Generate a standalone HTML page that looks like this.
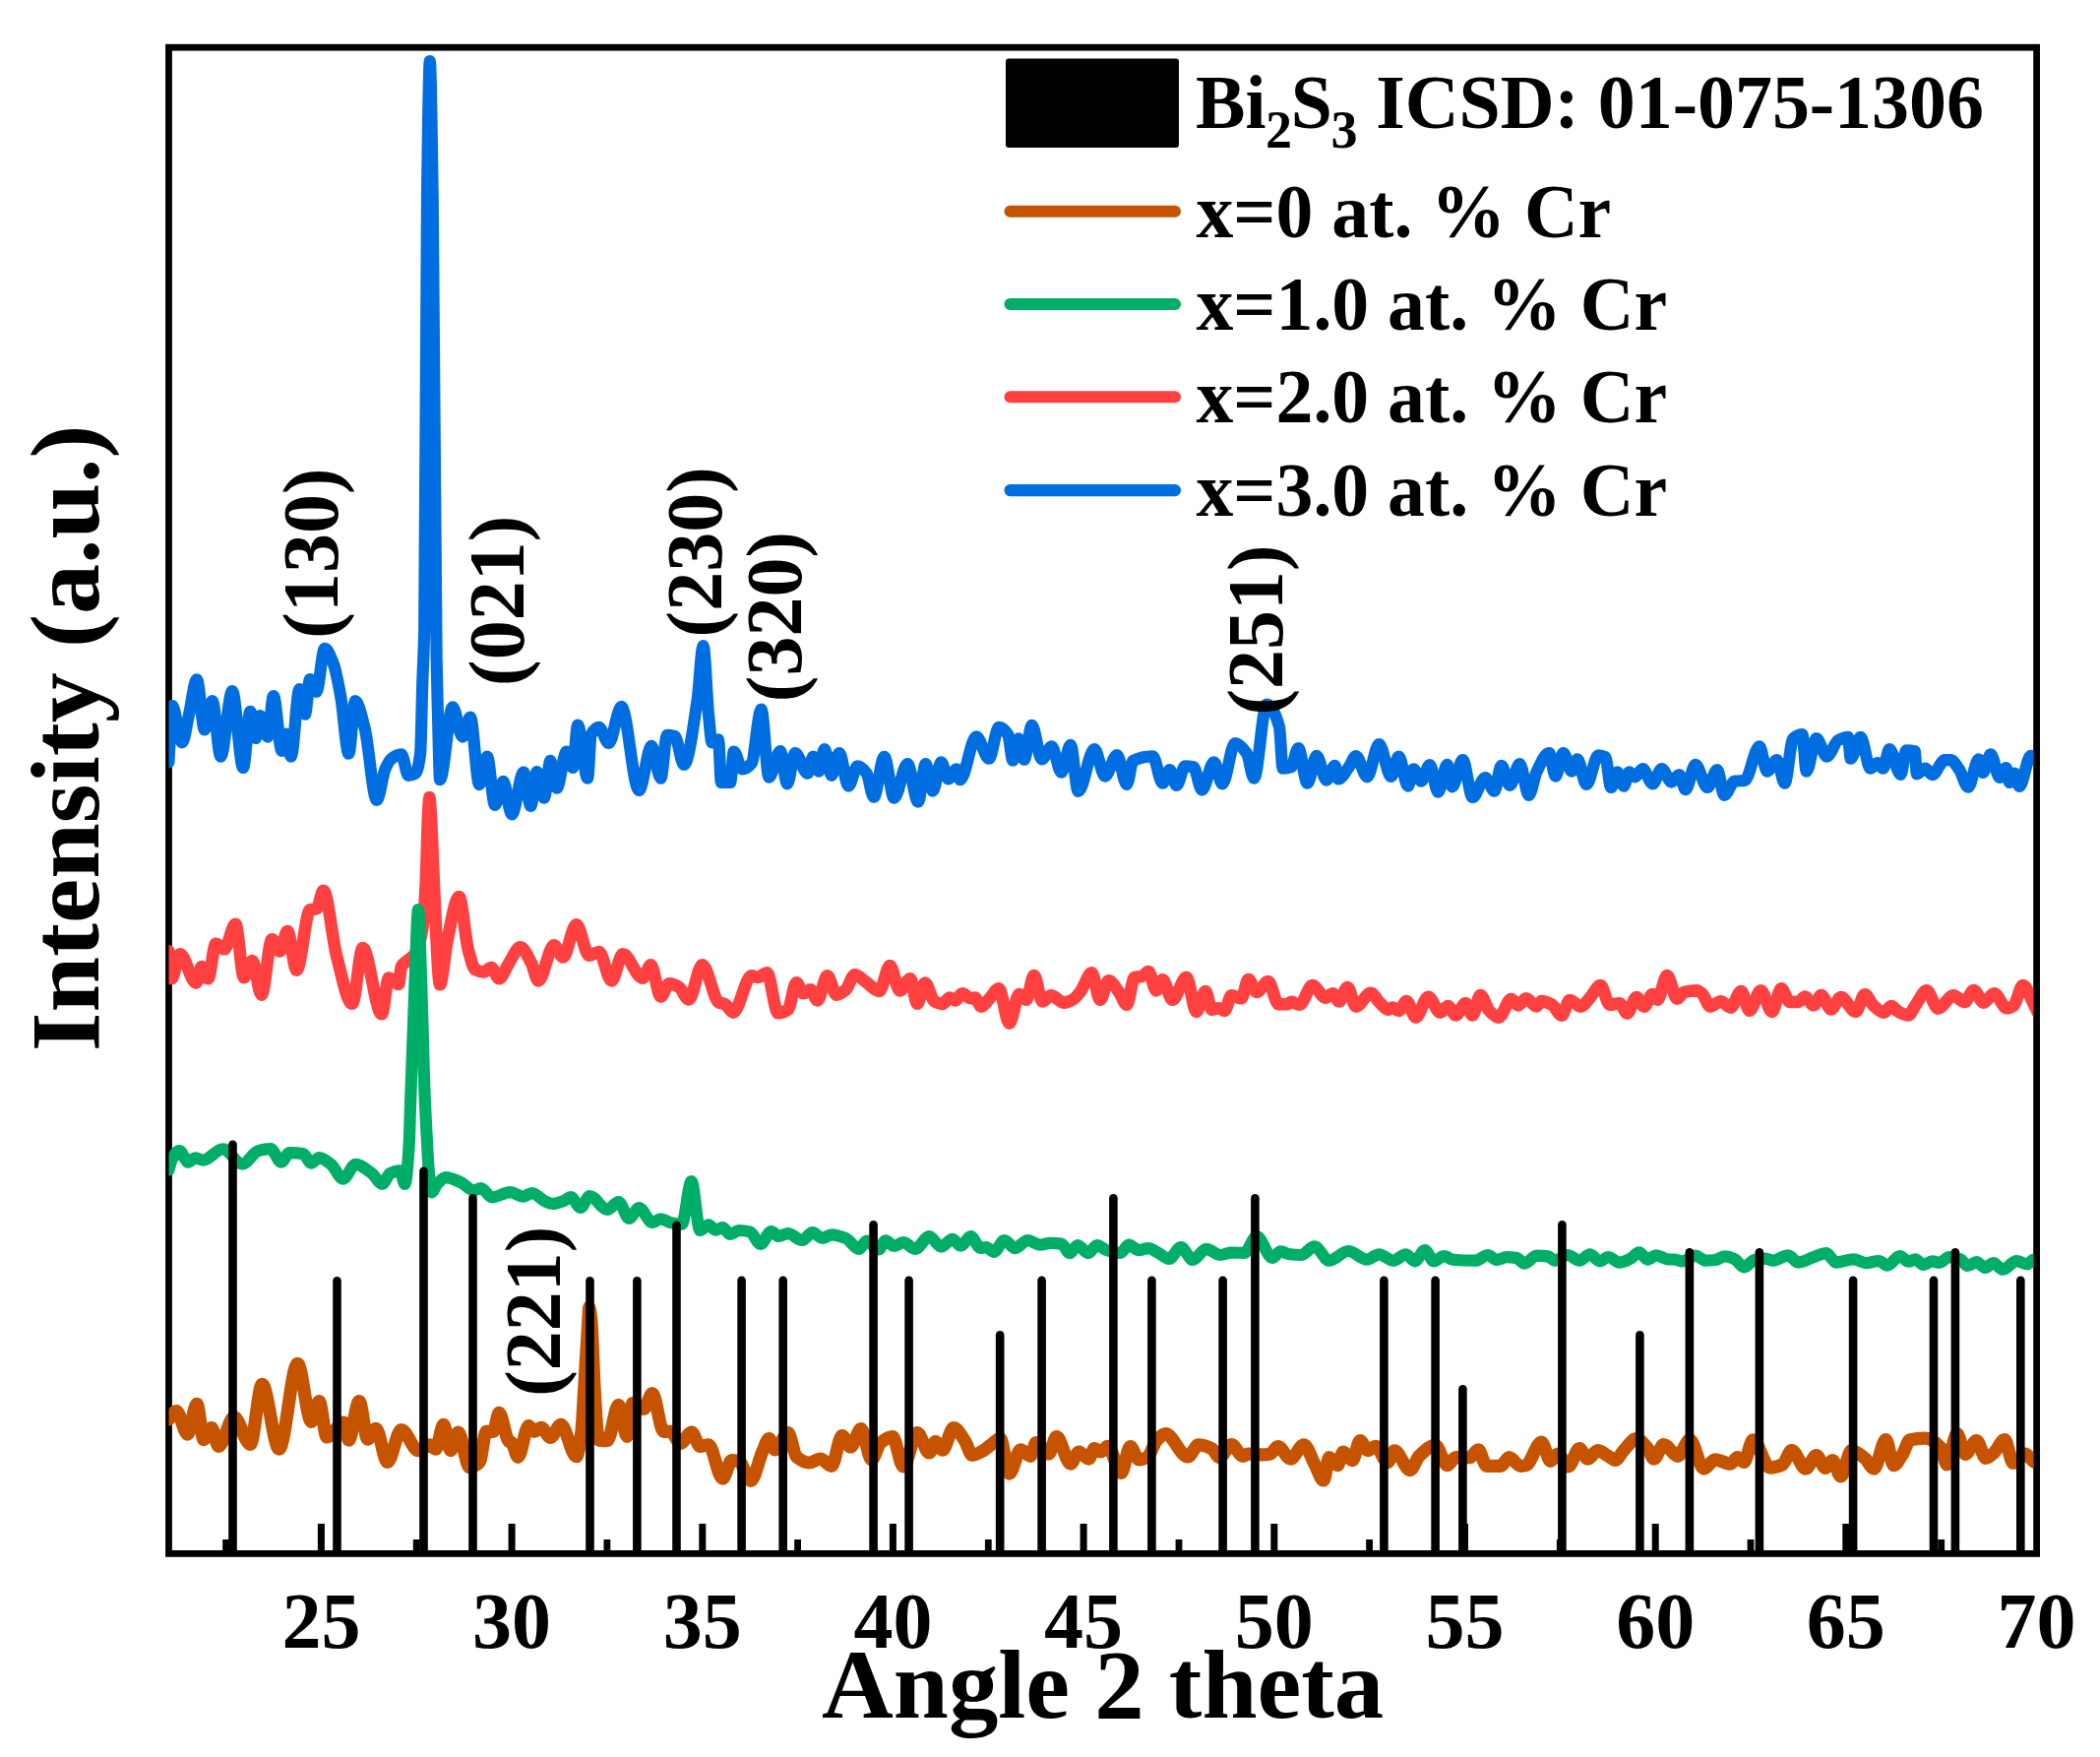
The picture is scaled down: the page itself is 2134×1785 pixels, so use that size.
<!DOCTYPE html>
<html><head><meta charset="utf-8"><title>XRD</title>
<style>
html,body{margin:0;padding:0;background:#fff;}
svg{display:block;}
text{font-family:"Liberation Serif","Times New Roman",serif;font-weight:bold;fill:#000;}
</style></head><body>
<svg width="2134" height="1785" viewBox="0 0 2134 1785">
<rect x="0" y="0" width="2134" height="1785" fill="#fff"/>
<defs><clipPath id="cp"><rect x="171.5" y="48.2" width="1894.6999999999998" height="1530.2"/></clipPath></defs>
<rect x="171.5" y="48.2" width="1898.1" height="1530.2" fill="none" stroke="#000" stroke-width="6.8"/>
<g><rect x="322.9" y="1548" width="7" height="30" fill="#000"/><rect x="516.6" y="1548" width="7" height="30" fill="#000"/><rect x="710.3" y="1548" width="7" height="30" fill="#000"/><rect x="903.9" y="1548" width="7" height="30" fill="#000"/><rect x="1097.6" y="1548" width="7" height="30" fill="#000"/><rect x="1291.3" y="1548" width="7" height="30" fill="#000"/><rect x="1485.0" y="1548" width="7" height="30" fill="#000"/><rect x="1678.7" y="1548" width="7" height="30" fill="#000"/><rect x="1872.3" y="1548" width="7" height="30" fill="#000"/><rect x="226.2" y="1564" width="6.8" height="14" fill="#000"/><rect x="419.8" y="1564" width="6.8" height="14" fill="#000"/><rect x="613.5" y="1564" width="6.8" height="14" fill="#000"/><rect x="807.2" y="1564" width="6.8" height="14" fill="#000"/><rect x="1000.9" y="1564" width="6.8" height="14" fill="#000"/><rect x="1194.6" y="1564" width="6.8" height="14" fill="#000"/><rect x="1388.2" y="1564" width="6.8" height="14" fill="#000"/><rect x="1581.9" y="1564" width="6.8" height="14" fill="#000"/><rect x="1775.6" y="1564" width="6.8" height="14" fill="#000"/><rect x="1969.3" y="1564" width="6.8" height="14" fill="#000"/></g>
<g clip-path="url(#cp)">
<path d="M171.4,774.3C172.6,755.2 173.8,717.1 175.0,717.1C178.3,717.1 181.7,754.3 185.0,754.3C187.4,754.3 189.7,735.7 192.1,725.7C194.7,714.5 197.4,690.3 200.0,690.3C202.6,690.3 205.3,741.4 207.9,741.4C210.5,741.4 213.1,712.1 215.7,712.1C218.6,712.1 221.4,768.6 224.3,768.6C228.2,768.6 232.1,702.1 236.0,702.1C239.7,702.1 243.4,780.0 247.1,780.0C249.5,780.0 251.9,722.9 254.3,722.9C256.2,722.9 258.1,750.0 260.0,750.0C261.4,750.0 262.9,727.1 264.3,727.1C266.9,727.1 269.5,748.6 272.1,748.6C274.0,748.6 276.0,707.1 277.9,707.1C280.7,707.1 283.6,762.9 286.4,762.9C287.8,762.9 289.3,745.7 290.7,745.7C292.4,745.7 294.0,768.6 295.7,768.6C298.6,768.6 301.4,700.0 304.3,700.0C306.2,700.0 308.1,725.7 310.0,725.7C311.7,725.7 313.3,690.0 315.0,690.0C317.1,690.0 319.3,702.9 321.4,702.9C324.3,702.9 327.1,658.9 330.0,658.9C332.9,658.9 335.7,666.5 338.6,673.6C341.2,680.1 343.8,694.2 346.4,708.6C349.0,723.2 351.7,765.7 354.3,765.7C356.5,765.7 358.8,712.1 361.0,712.1C364.2,712.1 367.5,727.6 370.7,740.0C374.8,755.6 378.8,812.9 382.9,812.9C385.7,812.9 388.6,787.8 391.4,781.4C393.6,776.5 395.7,772.2 397.9,770.7C401.2,768.3 404.6,766.4 407.9,766.4C410.3,766.4 412.6,787.9 415.0,787.9C417.4,787.9 419.7,787.1 422.1,785.7C423.8,784.7 425.4,778.9 427.1,765.7C427.9,759.6 428.6,713.0 429.4,690.0C430.0,672.0 430.6,667.0 431.2,640.0C432.1,598.1 433.1,270.0 434.0,200.0C434.9,130.0 435.9,62.0 436.8,62.0C437.8,62.0 438.7,135.5 439.7,200.0C441.0,286.8 442.3,593.6 443.6,668.0C444.1,694.7 444.5,709.2 445.0,726.0C445.7,751.3 446.4,792.1 447.1,792.1C451.4,792.1 455.7,718.3 460.0,718.3C463.3,718.3 466.7,748.6 470.0,748.6C472.6,748.6 475.3,728.6 477.9,728.6C481.0,728.6 484.0,797.1 487.1,797.1C489.7,797.1 492.4,768.6 495.0,768.6C497.6,768.6 500.3,817.9 502.9,817.9C505.7,817.9 508.6,793.9 511.4,793.9C514.3,793.9 517.1,827.4 520.0,827.4C524.0,827.4 528.1,784.6 532.1,784.6C534.5,784.6 536.9,818.9 539.3,818.9C541.4,818.9 543.6,784.0 545.7,784.0C548.1,784.0 550.5,810.7 552.9,810.7C555.0,810.7 557.2,772.9 559.3,772.9C561.4,772.9 563.6,800.7 565.7,800.7C569.0,800.7 572.4,763.6 575.7,763.6C577.8,763.6 580.0,780.0 582.1,780.0C583.8,780.0 585.4,736.7 587.1,736.7C590.4,736.7 593.8,790.7 597.1,790.7C598.3,790.7 599.5,748.8 600.7,746.4C603.3,741.2 606.0,738.9 608.6,738.9C611.9,738.9 615.3,755.0 618.6,755.0C622.9,755.0 627.1,717.9 631.4,717.9C637.4,717.9 643.3,802.9 649.3,802.9C653.6,802.9 657.8,757.9 662.1,757.9C665.2,757.9 668.3,790.7 671.4,790.7C673.6,790.7 675.7,746.9 677.9,746.9C680.5,746.9 683.1,747.3 685.7,747.9C688.8,748.6 691.9,776.9 695.0,776.9C699.5,776.9 704.1,741.3 708.6,711.4C710.6,698.2 712.6,656.0 714.6,656.0C716.4,656.0 718.2,708.3 720.0,725.7C721.2,737.3 722.4,754.3 723.6,754.3C725.7,754.3 727.9,751.4 730.0,751.4C731.0,751.4 731.9,795.0 732.9,795.0C736.0,795.0 739.0,795.0 742.1,795.0C743.3,795.0 744.5,763.6 745.7,763.6C748.6,763.6 751.4,781.4 754.3,781.4C757.4,781.4 760.5,779.1 763.6,775.7C766.9,772.1 770.3,720.7 773.6,720.7C776.2,720.7 778.8,789.7 781.4,789.7C785.2,789.7 789.1,763.1 792.9,763.1C795.3,763.1 797.6,796.4 800.0,796.4C802.6,796.4 805.3,765.0 807.9,765.0C812.2,765.0 816.4,785.7 820.7,785.7C822.6,785.7 824.5,768.6 826.4,768.6C828.3,768.6 830.2,783.6 832.1,783.6C834.0,783.6 836.0,761.1 837.9,761.1C840.3,761.1 842.6,787.9 845.0,787.9C847.6,787.9 850.3,765.0 852.9,765.0C856.0,765.0 859.0,798.6 862.1,798.6C865.2,798.6 868.3,778.3 871.4,778.3C874.5,778.3 877.6,781.6 880.7,785.7C883.1,788.9 885.5,809.7 887.9,809.7C891.5,809.7 895.0,768.9 898.6,768.9C901.9,768.9 905.3,810.7 908.6,810.7C913.1,810.7 917.6,776.0 922.1,776.0C925.7,776.0 929.3,814.6 932.9,814.6C935.5,814.6 938.1,776.0 940.7,776.0C943.1,776.0 945.5,803.6 947.9,803.6C950.7,803.6 953.6,774.3 956.4,774.3C958.8,774.3 961.2,791.4 963.6,791.4C966.4,791.4 969.3,781.4 972.1,781.4C973.3,781.4 974.5,792.1 975.7,792.1C981.2,792.1 986.6,748.3 992.1,748.3C996.4,748.3 1000.7,770.7 1005.0,770.7C1008.3,770.7 1011.7,738.9 1015.0,738.9C1018.1,738.9 1021.2,741.7 1024.3,746.4C1026.0,748.9 1027.6,772.6 1029.3,772.6C1031.2,772.6 1033.1,750.3 1035.0,750.3C1036.9,750.3 1038.8,771.7 1040.7,771.7C1043.3,771.7 1046.0,736.9 1048.6,736.9C1051.9,736.9 1055.3,771.4 1058.6,771.4C1061.9,771.4 1065.3,758.3 1068.6,758.3C1071.9,758.3 1075.3,784.6 1078.6,784.6C1081.7,784.6 1084.8,756.9 1087.9,756.9C1090.5,756.9 1093.1,804.0 1095.7,804.0C1101.2,804.0 1106.6,761.1 1112.1,761.1C1115.7,761.1 1119.3,788.6 1122.9,788.6C1126.9,788.6 1131.0,767.1 1135.0,767.1C1138.3,767.1 1141.7,796.9 1145.0,796.9C1147.1,796.9 1149.3,774.0 1151.4,772.9C1158.1,769.5 1164.7,768.3 1171.4,768.3C1174.7,768.3 1178.1,795.7 1181.4,795.7C1183.8,795.7 1186.2,782.1 1188.6,782.1C1191.0,782.1 1193.3,797.9 1195.7,797.9C1198.6,797.9 1201.4,778.3 1204.3,778.3C1207.2,778.3 1210.0,778.7 1212.9,779.3C1215.7,779.9 1218.6,802.6 1221.4,802.6C1225.5,802.6 1229.5,774.3 1233.6,774.3C1236.4,774.3 1239.3,796.4 1242.1,796.4C1246.4,796.4 1250.7,755.0 1255.0,755.0C1259.0,755.0 1263.1,759.7 1267.1,765.7C1269.5,769.3 1271.9,790.7 1274.3,790.7C1278.6,790.7 1282.8,715.7 1287.1,715.7C1291.4,715.7 1295.7,723.2 1300.0,738.6C1301.2,742.9 1302.4,780.7 1303.6,780.7C1306.4,780.7 1309.3,780.2 1312.1,779.3C1314.5,778.5 1316.9,760.0 1319.3,760.0C1322.4,760.0 1325.5,795.7 1328.6,795.7C1331.7,795.7 1334.8,767.9 1337.9,767.9C1341.2,767.9 1344.6,792.6 1347.9,792.6C1350.7,792.6 1353.6,777.9 1356.4,777.9C1357.6,777.9 1358.8,791.4 1360.0,791.4C1363.6,791.4 1367.1,784.0 1370.7,779.3C1373.1,776.1 1375.5,768.1 1377.9,768.1C1381.7,768.1 1385.5,789.3 1389.3,789.3C1393.3,789.3 1397.4,756.0 1401.4,756.0C1405.5,756.0 1409.5,788.9 1413.6,788.9C1416.2,788.9 1418.8,768.6 1421.4,768.6C1424.5,768.6 1427.6,798.6 1430.7,798.6C1432.6,798.6 1434.5,781.4 1436.4,781.4C1439.0,781.4 1441.7,793.6 1444.3,793.6C1447.2,793.6 1450.0,777.1 1452.9,777.1C1455.7,777.1 1458.6,804.6 1461.4,804.6C1464.5,804.6 1467.6,776.9 1470.7,776.9C1472.4,776.9 1474.0,799.3 1475.7,799.3C1479.3,799.3 1482.8,772.1 1486.4,772.1C1489.7,772.1 1493.1,810.0 1496.4,810.0C1500.7,810.0 1505.0,790.0 1509.3,790.0C1512.4,790.0 1515.5,803.6 1518.6,803.6C1521.0,803.6 1523.3,777.9 1525.7,777.9C1528.6,777.9 1531.4,797.9 1534.3,797.9C1537.6,797.9 1541.0,776.0 1544.3,776.0C1547.4,776.0 1550.5,807.9 1553.6,807.9C1556.2,807.9 1558.8,789.7 1561.4,784.3C1565.7,775.4 1570.0,765.0 1574.3,765.0C1576.4,765.0 1578.6,788.6 1580.7,788.6C1583.3,788.6 1586.0,765.0 1588.6,765.0C1591.4,765.0 1594.3,783.6 1597.1,783.6C1599.0,783.6 1601.0,771.4 1602.9,771.4C1606.0,771.4 1609.0,796.9 1612.1,796.9C1616.2,796.9 1620.2,767.4 1624.3,767.4C1626.7,767.4 1629.0,768.1 1631.4,769.3C1633.3,770.3 1635.2,800.0 1637.1,800.0C1639.3,800.0 1641.4,784.3 1643.6,784.3C1645.7,784.3 1647.9,798.6 1650.0,798.6C1651.9,798.6 1653.8,784.3 1655.7,784.3C1657.6,784.3 1659.5,789.3 1661.4,789.3C1664.0,789.3 1666.7,781.1 1669.3,781.1C1672.6,781.1 1676.0,796.4 1679.3,796.4C1682.4,796.4 1685.5,781.1 1688.6,781.1C1691.9,781.1 1695.3,794.6 1698.6,794.6C1701.2,794.6 1703.8,787.1 1706.4,787.1C1708.6,787.1 1710.7,802.1 1712.9,802.1C1716.2,802.1 1719.6,776.9 1722.9,776.9C1726.9,776.9 1731.0,800.0 1735.0,800.0C1738.3,800.0 1741.7,782.1 1745.0,782.1C1747.4,782.1 1749.7,807.9 1752.1,807.9C1755.7,807.9 1759.3,794.1 1762.9,793.6C1766.2,793.2 1769.6,793.3 1772.9,792.9C1777.9,792.3 1782.9,758.3 1787.9,758.3C1790.5,758.3 1793.1,783.6 1795.7,783.6C1799.0,783.6 1802.4,772.1 1805.7,772.1C1808.3,772.1 1811.0,795.7 1813.6,795.7C1816.4,795.7 1819.3,752.7 1822.1,750.3C1825.2,747.6 1828.3,746.0 1831.4,746.0C1832.8,746.0 1834.3,783.6 1835.7,783.6C1839.0,783.6 1842.4,750.0 1845.7,750.0C1849.3,750.0 1852.8,768.6 1856.4,768.6C1860.2,768.6 1864.1,754.1 1867.9,752.1C1871.2,750.4 1874.6,748.9 1877.9,748.9C1878.8,748.9 1879.8,770.7 1880.7,770.7C1884.0,770.7 1887.4,748.9 1890.7,748.9C1894.0,748.9 1897.4,780.7 1900.7,780.7C1903.1,780.7 1905.5,775.0 1907.9,775.0C1909.8,775.0 1911.7,780.7 1913.6,780.7C1915.7,780.7 1917.9,761.0 1920.0,761.0C1923.8,761.0 1927.6,786.9 1931.4,786.9C1933.3,786.9 1935.2,762.4 1937.1,762.4C1940.0,762.4 1942.8,762.5 1945.7,763.1C1946.4,763.2 1947.2,786.4 1947.9,786.4C1950.7,786.4 1953.6,780.7 1956.4,780.7C1958.8,780.7 1961.2,787.1 1963.6,787.1C1967.9,787.1 1972.1,772.1 1976.4,772.1C1978.3,772.1 1980.2,772.1 1982.1,772.1C1985.0,772.1 1987.8,777.4 1990.7,781.4C1993.8,785.7 1996.9,799.7 2000.0,799.7C2003.6,799.7 2007.1,771.4 2010.7,771.4C2012.1,771.4 2013.6,785.0 2015.0,785.0C2017.6,785.0 2020.3,766.4 2022.9,766.4C2026.0,766.4 2029.0,790.0 2032.1,790.0C2034.3,790.0 2036.4,780.0 2038.6,780.0C2039.8,780.0 2040.9,795.0 2042.1,795.0C2043.8,795.0 2045.4,785.7 2047.1,785.7C2048.8,785.7 2050.4,798.9 2052.1,798.9C2055.9,798.9 2059.8,767.9 2063.6,767.9C2066.0,767.9 2068.3,768.4 2070.7,768.6" fill="none" stroke="#006EE0" stroke-width="12.2" stroke-linejoin="round" stroke-linecap="round"/>
<path d="M171.4,966.4C172.4,975.7 173.3,994.3 174.3,994.3C177.2,994.3 180.0,969.3 182.9,969.3C188.4,969.3 193.8,998.6 199.3,998.6C201.2,998.6 203.1,982.1 205.0,982.1C207.1,982.1 209.3,994.3 211.4,994.3C214.0,994.3 216.7,958.9 219.3,958.9C222.2,958.9 225.0,964.3 227.9,964.3C231.7,964.3 235.5,938.9 239.3,938.9C242.2,938.9 245.0,993.1 247.9,993.1C250.7,993.1 253.6,976.0 256.4,976.0C259.5,976.0 262.6,1010.7 265.7,1010.7C269.3,1010.7 272.8,954.3 276.4,954.3C279.0,954.3 281.7,966.4 284.3,966.4C286.9,966.4 289.5,946.0 292.1,946.0C295.2,946.0 298.3,985.7 301.4,985.7C305.9,985.7 310.5,925.9 315.0,924.3C317.4,923.5 319.7,923.8 322.1,922.9C324.3,922.1 326.4,904.7 328.6,904.7C333.1,904.7 337.6,954.3 342.1,971.4C347.4,991.4 352.6,1019.7 357.9,1019.7C361.5,1019.7 365.0,963.1 368.6,963.1C375.0,963.1 381.5,1030.3 387.9,1030.3C390.3,1030.3 392.6,993.6 395.0,993.6C398.3,993.6 401.7,1000.0 405.0,1000.0C406.0,1000.0 406.9,983.4 407.9,981.7C409.8,978.4 411.7,978.2 413.6,976.4C416.4,973.8 419.3,972.8 422.1,968.6C424.5,965.0 426.9,957.4 429.3,942.9C430.4,936.3 431.5,920.3 432.6,900.0C433.4,885.2 434.2,842.8 435.0,828.6C435.5,820.3 435.9,810.0 436.4,810.0C436.9,810.0 437.4,820.8 437.9,828.6C438.9,844.7 440.0,879.8 441.0,900.0C443.0,939.7 445.1,1000.3 447.1,1000.3C449.5,1000.3 451.9,968.5 454.3,957.1C458.3,938.0 462.4,911.1 466.4,911.1C469.5,911.1 472.6,952.6 475.7,964.3C478.1,973.4 480.5,983.7 482.9,985.0C485.7,986.5 488.6,987.4 491.4,987.4C494.0,987.4 496.7,983.1 499.3,983.1C501.9,983.1 504.5,994.3 507.1,994.3C510.4,994.3 513.8,983.6 517.1,978.6C520.9,972.9 524.8,962.4 528.6,962.4C532.4,962.4 536.2,971.6 540.0,978.6C542.4,983.0 544.7,996.4 547.1,996.4C552.4,996.4 557.6,960.3 562.9,960.3C566.0,960.3 569.0,972.4 572.1,972.4C576.6,972.4 581.2,939.3 585.7,939.3C590.0,939.3 594.3,970.7 598.6,970.7C601.9,970.7 605.3,967.1 608.6,967.1C612.9,967.1 617.1,996.4 621.4,996.4C625.2,996.4 629.1,969.3 632.9,969.3C639.6,969.3 646.2,993.6 652.9,993.6C655.7,993.6 658.6,980.3 661.4,980.3C664.7,980.3 668.1,1012.6 671.4,1012.6C674.3,1012.6 677.1,999.3 680.0,999.3C683.3,999.3 686.7,1001.0 690.0,1002.9C693.3,1004.8 696.7,1015.4 700.0,1015.4C704.5,1015.4 709.1,980.3 713.6,980.3C719.3,980.3 725.0,1016.4 730.7,1018.6C732.6,1019.3 734.5,1019.3 736.4,1020.0C739.3,1021.1 742.1,1028.6 745.0,1028.6C751.2,1028.6 757.4,991.4 763.6,991.4C765.7,991.4 767.9,992.9 770.0,992.9C773.1,992.9 776.2,988.3 779.3,988.3C783.1,988.3 786.9,1029.3 790.7,1029.3C794.0,1029.3 797.4,1027.9 800.7,1025.7C803.6,1023.8 806.4,998.3 809.3,998.3C811.7,998.3 814.0,1009.3 816.4,1009.3C818.8,1009.3 821.2,1005.4 823.6,1005.4C826.0,1005.4 828.3,1016.4 830.7,1016.4C834.0,1016.4 837.4,991.4 840.7,991.4C843.8,991.4 846.9,1010.7 850.0,1010.7C853.1,1010.7 856.2,1008.2 859.3,1005.7C862.4,1003.2 865.5,990.3 868.6,990.3C872.2,990.3 875.7,994.8 879.3,997.1C884.1,1000.2 888.8,1006.9 893.6,1006.9C897.2,1006.9 900.7,981.1 904.3,981.1C907.6,981.1 911.0,1006.4 914.3,1006.4C917.9,1006.4 921.4,994.3 925.0,994.3C927.4,994.3 929.7,1019.7 932.1,1019.7C934.7,1019.7 937.4,998.6 940.0,998.6C943.1,998.6 946.2,1015.3 949.3,1017.1C952.2,1018.7 955.0,1020.0 957.9,1020.0C960.3,1020.0 962.6,1013.6 965.0,1013.6C966.9,1013.6 968.8,1016.4 970.7,1016.4C973.1,1016.4 975.5,1009.3 977.9,1009.3C980.7,1009.3 983.6,1014.3 986.4,1014.3C987.8,1014.3 989.3,1013.6 990.7,1013.6C992.8,1013.6 995.0,1022.6 997.1,1022.6C1000.0,1022.6 1002.8,1017.2 1005.7,1014.3C1008.8,1011.1 1011.9,1004.3 1015.0,1004.3C1018.6,1004.3 1022.1,1039.7 1025.7,1039.7C1029.0,1039.7 1032.4,1010.0 1035.7,1010.0C1038.1,1010.0 1040.5,1015.7 1042.9,1015.7C1045.5,1015.7 1048.1,991.1 1050.7,991.1C1053.6,991.1 1056.4,1017.4 1059.3,1017.4C1062.2,1017.4 1065.0,1011.4 1067.9,1011.4C1072.4,1011.4 1076.9,1018.6 1081.4,1018.6C1084.3,1018.6 1087.1,1017.2 1090.0,1015.7C1092.9,1014.2 1095.7,1010.2 1098.6,1006.4C1102.2,1001.7 1105.7,988.3 1109.3,988.3C1112.2,988.3 1115.0,1015.7 1117.9,1015.7C1120.7,1015.7 1123.6,996.4 1126.4,996.4C1130.0,996.4 1133.5,1003.2 1137.1,1007.9C1139.7,1011.3 1142.4,1020.7 1145.0,1020.7C1147.6,1020.7 1150.3,993.5 1152.9,992.9C1155.3,992.4 1157.6,992.6 1160.0,992.1C1162.4,991.6 1164.7,987.1 1167.1,987.1C1169.7,987.1 1172.4,1006.4 1175.0,1006.4C1177.1,1006.4 1179.3,995.4 1181.4,995.4C1184.7,995.4 1188.1,1015.7 1191.4,1015.7C1196.2,1015.7 1200.9,992.9 1205.7,992.9C1209.0,992.9 1212.4,1027.9 1215.7,1027.9C1218.8,1027.9 1221.9,1007.1 1225.0,1007.1C1227.1,1007.1 1229.3,1025.7 1231.4,1025.7C1233.8,1025.7 1236.2,1024.3 1238.6,1024.3C1240.5,1024.3 1242.4,1026.9 1244.3,1026.9C1246.7,1026.9 1249.0,1011.4 1251.4,1011.4C1254.7,1011.4 1258.1,1014.3 1261.4,1014.3C1263.8,1014.3 1266.2,995.0 1268.6,995.0C1271.4,995.0 1274.3,1007.9 1277.1,1007.9C1280.9,1007.9 1284.8,997.1 1288.6,997.1C1292.2,997.1 1295.7,1020.3 1299.3,1020.3C1302.2,1020.3 1305.0,1020.3 1307.9,1020.3C1309.3,1020.3 1310.7,1017.9 1312.1,1017.9C1315.0,1017.9 1317.8,1020.7 1320.7,1020.7C1325.0,1020.7 1329.3,1001.1 1333.6,1001.1C1338.1,1001.1 1342.6,1013.6 1347.1,1013.6C1349.5,1013.6 1351.9,1009.3 1354.3,1009.3C1356.4,1009.3 1358.6,1017.4 1360.7,1017.4C1363.6,1017.4 1366.4,1003.1 1369.3,1003.1C1372.2,1003.1 1375.0,1022.6 1377.9,1022.6C1382.9,1022.6 1387.9,1008.9 1392.9,1008.9C1396.0,1008.9 1399.0,1015.8 1402.1,1018.6C1405.0,1021.3 1407.8,1025.7 1410.7,1025.7C1412.1,1025.7 1413.6,1023.6 1415.0,1023.6C1417.1,1023.6 1419.3,1026.9 1421.4,1026.9C1424.0,1026.9 1426.7,1017.1 1429.3,1017.1C1432.4,1017.1 1435.5,1033.6 1438.6,1033.6C1442.9,1033.6 1447.1,1012.9 1451.4,1012.9C1455.5,1012.9 1459.5,1028.6 1463.6,1028.6C1466.2,1028.6 1468.8,1022.1 1471.4,1022.1C1474.0,1022.1 1476.7,1031.4 1479.3,1031.4C1482.6,1031.4 1486.0,1019.3 1489.3,1019.3C1491.7,1019.3 1494.0,1031.4 1496.4,1031.4C1499.0,1031.4 1501.7,1011.1 1504.3,1011.1C1507.4,1011.1 1510.5,1024.0 1513.6,1027.1C1516.7,1030.2 1519.8,1033.6 1522.9,1033.6C1527.2,1033.6 1531.4,1015.0 1535.7,1015.0C1538.1,1015.0 1540.5,1021.4 1542.9,1021.4C1545.5,1021.4 1548.1,1014.3 1550.7,1014.3C1554.3,1014.3 1557.8,1022.4 1561.4,1022.4C1563.1,1022.4 1564.7,1017.1 1566.4,1017.1C1570.0,1017.1 1573.5,1018.9 1577.1,1020.7C1580.4,1022.4 1583.8,1031.7 1587.1,1031.7C1589.7,1031.7 1592.4,1016.0 1595.0,1016.0C1598.8,1016.0 1602.6,1022.6 1606.4,1022.6C1609.5,1022.6 1612.6,1016.9 1615.7,1013.6C1619.3,1009.8 1622.8,1001.1 1626.4,1001.1C1629.5,1001.1 1632.6,1020.7 1635.7,1020.7C1639.0,1020.7 1642.4,1019.3 1645.7,1019.3C1648.3,1019.3 1651.0,1029.6 1653.6,1029.6C1656.7,1029.6 1659.8,1013.1 1662.9,1013.1C1665.5,1013.1 1668.1,1022.6 1670.7,1022.6C1673.6,1022.6 1676.4,1010.0 1679.3,1010.0C1681.0,1010.0 1682.6,1015.7 1684.3,1015.7C1687.5,1015.7 1690.8,991.1 1694.0,991.1C1697.4,991.1 1700.9,1014.6 1704.3,1014.6C1706.7,1014.6 1709.0,1008.4 1711.4,1007.9C1715.7,1006.9 1720.0,1006.4 1724.3,1006.4C1726.2,1006.4 1728.1,1008.3 1730.0,1010.0C1732.6,1012.3 1735.3,1022.6 1737.9,1022.6C1741.5,1022.6 1745.0,1017.4 1748.6,1017.4C1751.9,1017.4 1755.3,1023.6 1758.6,1023.6C1762.2,1023.6 1765.7,1007.1 1769.3,1007.1C1772.2,1007.1 1775.0,1026.7 1777.9,1026.7C1781.7,1026.7 1785.5,1006.4 1789.3,1006.4C1793.1,1006.4 1796.9,1027.9 1800.7,1027.9C1803.8,1027.9 1806.9,1004.3 1810.0,1004.3C1812.9,1004.3 1815.7,1017.9 1818.6,1017.9C1821.4,1017.9 1824.3,1017.9 1827.1,1017.9C1829.5,1017.9 1831.9,1012.6 1834.3,1012.6C1837.2,1012.6 1840.0,1021.4 1842.9,1021.4C1845.5,1021.4 1848.1,1011.1 1850.7,1011.1C1854.0,1011.1 1857.4,1025.4 1860.7,1025.4C1864.0,1025.4 1867.4,1013.1 1870.7,1013.1C1875.7,1013.1 1880.7,1027.9 1885.7,1027.9C1888.8,1027.9 1891.9,1010.3 1895.0,1010.3C1897.9,1010.3 1900.7,1018.8 1903.6,1021.4C1907.2,1024.6 1910.7,1028.6 1914.3,1028.6C1916.9,1028.6 1919.5,1022.1 1922.1,1022.1C1924.5,1022.1 1926.9,1026.7 1929.3,1027.9C1932.6,1029.6 1936.0,1031.4 1939.3,1031.4C1941.7,1031.4 1944.0,1024.6 1946.4,1021.4C1950.2,1016.2 1954.1,1006.4 1957.9,1006.4C1961.7,1006.4 1965.5,1024.6 1969.3,1024.6C1974.5,1024.6 1979.8,1011.4 1985.0,1011.4C1988.8,1011.4 1992.6,1017.9 1996.4,1017.9C1999.5,1017.9 2002.6,1006.0 2005.7,1006.0C2009.0,1006.0 2012.4,1018.6 2015.7,1018.6C2019.3,1018.6 2022.8,1009.3 2026.4,1009.3C2030.7,1009.3 2035.0,1024.3 2039.3,1024.3C2041.7,1024.3 2044.0,1023.0 2046.4,1021.4C2049.5,1019.3 2052.6,1001.1 2055.7,1001.1C2059.1,1001.1 2062.6,1012.0 2066.0,1018.6C2067.6,1021.6 2069.1,1025.3 2070.7,1028.6" fill="none" stroke="#FF4040" stroke-width="12.6" stroke-linejoin="round" stroke-linecap="round"/>
<path d="M171.4,1188.6C172.6,1184.8 173.8,1179.2 175.0,1177.1C177.4,1172.9 179.7,1169.0 182.1,1169.0C185.2,1169.0 188.3,1180.7 191.4,1180.7C193.8,1180.7 196.2,1176.4 198.6,1176.4C201.2,1176.4 203.8,1178.6 206.4,1178.6C213.1,1178.6 219.7,1167.4 226.4,1167.4C233.1,1167.4 239.7,1182.6 246.4,1182.6C251.6,1182.6 256.9,1170.8 262.1,1169.3C266.4,1168.1 270.7,1167.1 275.0,1167.1C278.6,1167.1 282.1,1180.7 285.7,1180.7C288.6,1180.7 291.4,1171.1 294.3,1171.1C298.8,1171.1 303.4,1171.4 307.9,1172.1C310.7,1172.5 313.6,1181.7 316.4,1181.7C319.0,1181.7 321.7,1176.1 324.3,1176.1C328.3,1176.1 332.4,1179.8 336.4,1182.9C340.5,1186.0 344.5,1197.6 348.6,1197.6C352.9,1197.6 357.1,1182.9 361.4,1182.9C366.9,1182.9 372.4,1188.1 377.9,1192.1C381.5,1194.7 385.0,1202.9 388.6,1202.9C391.2,1202.9 393.8,1193.3 396.4,1192.1C399.7,1190.5 403.1,1189.3 406.4,1189.3C408.1,1189.3 409.7,1202.9 411.4,1202.9C412.8,1202.9 414.3,1185.4 415.7,1162.9C416.2,1155.6 416.6,1133.6 417.1,1120.0C418.6,1077.2 420.0,1035.3 421.5,1000.0C422.7,971.9 423.8,924.0 425.0,924.0C426.1,924.0 427.1,970.9 428.2,1000.0C429.4,1033.7 430.7,1095.3 431.9,1120.0C434.1,1164.6 436.4,1211.4 438.6,1211.4C440.5,1211.4 442.4,1204.9 444.3,1202.9C447.2,1199.9 450.0,1196.1 452.9,1196.1C458.1,1196.1 463.4,1199.1 468.6,1201.4C472.9,1203.3 477.1,1209.3 481.4,1209.3C483.8,1209.3 486.2,1207.1 488.6,1207.1C492.4,1207.1 496.2,1216.4 500.0,1216.4C506.2,1216.4 512.4,1211.1 518.6,1211.1C522.9,1211.1 527.1,1215.7 531.4,1215.7C534.5,1215.7 537.6,1212.1 540.7,1212.1C545.2,1212.1 549.8,1218.9 554.3,1220.7C556.7,1221.7 559.0,1222.9 561.4,1222.9C565.2,1222.9 569.1,1221.4 572.9,1220.0C575.3,1219.2 577.6,1216.1 580.0,1216.1C583.3,1216.1 586.7,1226.9 590.0,1226.9C593.1,1226.9 596.2,1215.0 599.3,1215.0C605.2,1215.0 611.2,1228.9 617.1,1228.9C620.9,1228.9 624.8,1221.0 628.6,1221.0C632.2,1221.0 635.7,1237.9 639.3,1237.9C642.6,1237.9 646.0,1227.1 649.3,1227.1C653.8,1227.1 658.4,1242.1 662.9,1242.1C665.7,1242.1 668.6,1238.3 671.4,1238.3C674.7,1238.3 678.1,1241.4 681.4,1242.1C685.2,1242.9 689.1,1243.6 692.9,1243.6C696.1,1243.6 699.4,1200.0 702.6,1200.0C705.5,1200.0 708.5,1250.0 711.4,1250.0C714.3,1250.0 717.1,1244.3 720.0,1244.3C722.4,1244.3 724.7,1249.7 727.1,1249.7C729.5,1249.7 731.9,1247.1 734.3,1247.1C736.9,1247.1 739.5,1254.0 742.1,1254.0C745.0,1254.0 747.8,1250.0 750.7,1250.0C754.5,1250.0 758.3,1250.6 762.1,1251.4C765.7,1252.2 769.3,1263.9 772.9,1263.9C776.5,1263.9 780.0,1251.0 783.6,1251.0C786.2,1251.0 788.8,1256.0 791.4,1256.0C794.5,1256.0 797.6,1253.1 800.7,1253.1C805.5,1253.1 810.2,1260.0 815.0,1260.0C818.6,1260.0 822.1,1252.1 825.7,1252.1C829.0,1252.1 832.4,1257.9 835.7,1257.9C838.8,1257.9 841.9,1254.3 845.0,1254.3C849.8,1254.3 854.5,1256.1 859.3,1257.9C863.8,1259.6 868.4,1268.9 872.9,1268.9C875.5,1268.9 878.1,1260.7 880.7,1260.7C884.8,1260.7 888.8,1269.3 892.9,1269.3C895.3,1269.3 897.6,1260.3 900.0,1260.3C902.9,1260.3 905.7,1266.0 908.6,1266.0C911.7,1266.0 914.8,1262.1 917.9,1262.1C921.9,1262.1 926.0,1268.9 930.0,1268.9C934.8,1268.9 939.5,1256.1 944.3,1256.1C948.3,1256.1 952.4,1266.7 956.4,1266.7C960.2,1266.7 964.1,1258.9 967.9,1258.9C970.7,1258.9 973.6,1265.7 976.4,1265.7C979.7,1265.7 983.1,1256.1 986.4,1256.1C989.7,1256.1 993.1,1267.9 996.4,1267.9C998.3,1267.9 1000.2,1267.1 1002.1,1267.1C1004.7,1267.1 1007.4,1271.9 1010.0,1271.9C1013.6,1271.9 1017.1,1260.0 1020.7,1260.0C1024.3,1260.0 1027.8,1268.1 1031.4,1268.1C1035.7,1268.1 1040.0,1260.0 1044.3,1260.0C1048.6,1260.0 1052.8,1264.6 1057.1,1264.6C1060.4,1264.6 1063.8,1262.9 1067.1,1262.9C1070.9,1262.9 1074.8,1263.1 1078.6,1263.6C1081.4,1263.9 1084.3,1273.1 1087.1,1273.1C1089.7,1273.1 1092.4,1265.0 1095.0,1265.0C1098.6,1265.0 1102.1,1273.1 1105.7,1273.1C1108.8,1273.1 1111.9,1265.0 1115.0,1265.0C1118.1,1265.0 1121.2,1269.1 1124.3,1270.0C1129.1,1271.5 1133.8,1272.9 1138.6,1272.9C1141.4,1272.9 1144.3,1264.7 1147.1,1264.7C1150.4,1264.7 1153.8,1270.0 1157.1,1270.0C1160.4,1270.0 1163.8,1268.1 1167.1,1268.1C1170.4,1268.1 1173.8,1271.2 1177.1,1272.9C1180.7,1274.8 1184.3,1278.9 1187.9,1278.9C1191.9,1278.9 1196.0,1267.1 1200.0,1267.1C1204.0,1267.1 1208.1,1280.0 1212.1,1280.0C1216.6,1280.0 1221.2,1268.9 1225.7,1268.9C1230.5,1268.9 1235.2,1275.0 1240.0,1275.0C1243.8,1275.0 1247.6,1272.6 1251.4,1272.6C1255.7,1272.6 1260.0,1272.9 1264.3,1272.9C1268.6,1272.9 1272.8,1256.1 1277.1,1256.1C1282.4,1256.1 1287.6,1277.9 1292.9,1277.9C1295.7,1277.9 1298.6,1271.4 1301.4,1271.4C1304.5,1271.4 1307.6,1274.0 1310.7,1274.3C1314.5,1274.7 1318.3,1275.0 1322.1,1275.0C1326.6,1275.0 1331.2,1266.4 1335.7,1266.4C1340.7,1266.4 1345.7,1280.7 1350.7,1280.7C1357.1,1280.7 1363.6,1271.0 1370.0,1271.0C1376.4,1271.0 1382.9,1279.6 1389.3,1279.6C1393.3,1279.6 1397.4,1274.3 1401.4,1274.3C1406.2,1274.3 1410.9,1280.7 1415.7,1280.7C1420.0,1280.7 1424.3,1274.3 1428.6,1274.3C1431.7,1274.3 1434.8,1281.4 1437.9,1281.4C1441.2,1281.4 1444.6,1270.0 1447.9,1270.0C1451.0,1270.0 1454.0,1281.4 1457.1,1281.4C1460.4,1281.4 1463.8,1276.0 1467.1,1276.0C1470.2,1276.0 1473.3,1279.4 1476.4,1279.7C1484.0,1280.4 1491.7,1280.7 1499.3,1280.7C1503.6,1280.7 1507.8,1275.0 1512.1,1275.0C1515.0,1275.0 1517.8,1280.0 1520.7,1280.0C1524.0,1280.0 1527.4,1277.1 1530.7,1277.1C1534.0,1277.1 1537.4,1277.4 1540.7,1277.9C1543.6,1278.3 1546.4,1283.6 1549.3,1283.6C1553.3,1283.6 1557.4,1275.7 1561.4,1275.7C1565.2,1275.7 1569.1,1275.9 1572.9,1276.4C1575.3,1276.7 1577.6,1280.7 1580.0,1280.7C1584.3,1280.7 1588.6,1275.0 1592.9,1275.0C1596.9,1275.0 1601.0,1280.7 1605.0,1280.7C1608.6,1280.7 1612.1,1274.3 1615.7,1274.3C1619.0,1274.3 1622.4,1281.4 1625.7,1281.4C1628.6,1281.4 1631.4,1277.1 1634.3,1277.1C1638.1,1277.1 1641.9,1282.6 1645.7,1282.6C1649.5,1282.6 1653.3,1280.4 1657.1,1278.6C1660.0,1277.2 1662.8,1272.4 1665.7,1272.4C1668.6,1272.4 1671.4,1279.6 1674.3,1279.6C1677.2,1279.6 1680.0,1275.3 1682.9,1275.3C1686.7,1275.3 1690.5,1279.0 1694.3,1279.3C1697.2,1279.5 1700.0,1279.5 1702.9,1279.7C1705.0,1279.9 1707.2,1281.4 1709.3,1281.4C1713.8,1281.4 1718.4,1275.7 1722.9,1275.7C1726.2,1275.7 1729.6,1280.7 1732.9,1280.7C1736.2,1280.7 1739.6,1280.4 1742.9,1280.0C1746.2,1279.6 1749.6,1276.4 1752.9,1276.4C1756.2,1276.4 1759.6,1277.8 1762.9,1279.3C1766.0,1280.6 1769.0,1287.4 1772.1,1287.4C1775.7,1287.4 1779.3,1280.8 1782.9,1280.0C1786.7,1279.2 1790.5,1278.6 1794.3,1278.6C1796.7,1278.6 1799.0,1280.7 1801.4,1280.7C1806.6,1280.7 1811.9,1275.3 1817.1,1275.3C1820.4,1275.3 1823.8,1282.6 1827.1,1282.6C1832.6,1282.6 1838.1,1278.7 1843.6,1276.9C1847.6,1275.6 1851.7,1273.1 1855.7,1273.1C1859.0,1273.1 1862.4,1282.6 1865.7,1282.6C1871.7,1282.6 1877.6,1279.3 1883.6,1279.3C1887.9,1279.3 1892.1,1283.1 1896.4,1283.1C1900.7,1283.1 1905.0,1281.0 1909.3,1281.0C1912.2,1281.0 1915.0,1285.7 1917.9,1285.7C1922.2,1285.7 1926.4,1276.0 1930.7,1276.0C1933.6,1276.0 1936.4,1281.7 1939.3,1281.7C1941.7,1281.7 1944.0,1279.3 1946.4,1279.3C1949.0,1279.3 1951.7,1285.0 1954.3,1285.0C1957.4,1285.0 1960.5,1281.4 1963.6,1281.4C1966.0,1281.4 1968.3,1282.9 1970.7,1282.9C1974.0,1282.9 1977.4,1277.1 1980.7,1277.1C1984.5,1277.1 1988.3,1278.0 1992.1,1279.3C1994.5,1280.1 1996.9,1286.0 1999.3,1286.0C2002.4,1286.0 2005.5,1282.1 2008.6,1282.1C2011.4,1282.1 2014.3,1287.9 2017.1,1287.9C2020.0,1287.9 2022.8,1283.1 2025.7,1283.1C2028.8,1283.1 2031.9,1289.7 2035.0,1289.7C2039.8,1289.7 2044.5,1281.1 2049.3,1281.1C2052.9,1281.1 2056.4,1284.3 2060.0,1284.3C2062.0,1284.3 2064.0,1280.8 2066.0,1280.0C2067.6,1279.4 2069.1,1279.1 2070.7,1278.6" fill="none" stroke="#00AE68" stroke-width="12.2" stroke-linejoin="round" stroke-linecap="round"/>
<path d="M171.4,1442.1C174.0,1439.3 176.7,1433.6 179.3,1433.6C183.1,1433.6 186.9,1457.1 190.7,1457.1C193.8,1457.1 196.9,1426.4 200.0,1426.4C202.4,1426.4 204.7,1462.6 207.1,1462.6C209.7,1462.6 212.4,1450.7 215.0,1450.7C217.4,1450.7 219.7,1469.3 222.1,1469.3C227.4,1469.3 232.6,1439.6 237.9,1439.6C243.4,1439.6 248.8,1467.4 254.3,1467.4C258.3,1467.4 262.4,1406.4 266.4,1406.4C272.1,1406.4 277.9,1472.1 283.6,1472.1C289.9,1472.1 296.1,1385.4 302.4,1385.4C307.1,1385.4 311.7,1444.3 316.4,1444.3C319.0,1444.3 321.7,1423.6 324.3,1423.6C326.9,1423.6 329.5,1460.0 332.1,1460.0C337.8,1460.0 343.6,1445.0 349.3,1445.0C351.0,1445.0 352.6,1463.1 354.3,1463.1C357.9,1463.1 361.4,1423.6 365.0,1423.6C367.9,1423.6 370.7,1462.1 373.6,1462.1C376.4,1462.1 379.3,1451.4 382.1,1451.4C385.9,1451.4 389.8,1485.4 393.6,1485.4C398.4,1485.4 403.1,1452.6 407.9,1452.6C413.6,1452.6 419.3,1473.6 425.0,1473.6C428.8,1473.6 432.6,1467.9 436.4,1467.9C438.6,1467.9 440.7,1472.1 442.9,1472.1C445.5,1472.1 448.1,1447.4 450.7,1447.4C453.1,1447.4 455.5,1473.6 457.9,1473.6C460.5,1473.6 463.1,1455.0 465.7,1455.0C469.5,1455.0 473.3,1490.7 477.1,1490.7C480.4,1490.7 483.8,1488.8 487.1,1485.7C489.5,1483.4 491.9,1454.3 494.3,1454.3C496.7,1454.3 499.0,1454.3 501.4,1454.3C503.3,1454.3 505.2,1435.4 507.1,1435.4C510.4,1435.4 513.8,1461.9 517.1,1464.3C518.1,1465.0 519.0,1465.0 520.0,1465.7C522.1,1467.3 524.3,1480.3 526.4,1480.3C530.0,1480.3 533.5,1448.6 537.1,1448.6C539.0,1448.6 541.0,1454.3 542.9,1454.3C545.3,1454.3 547.6,1450.3 550.0,1450.3C553.1,1450.3 556.2,1460.3 559.3,1460.3C562.9,1460.3 566.4,1447.4 570.0,1447.4C575.2,1447.4 580.5,1479.7 585.7,1479.7C587.4,1479.7 589.2,1467.8 590.9,1454.3C591.8,1447.0 592.8,1426.4 593.7,1411.4C595.1,1388.9 596.5,1362.0 597.9,1340.0C598.2,1335.8 598.4,1328.0 598.7,1328.0C599.4,1328.0 600.0,1334.1 600.7,1340.0C601.8,1350.1 603.0,1391.8 604.1,1411.4C605.1,1428.1 606.0,1446.9 607.0,1454.3C607.5,1458.4 608.1,1463.0 608.6,1463.1C611.4,1463.5 614.3,1463.6 617.1,1463.6C620.9,1463.6 624.8,1427.4 628.6,1427.4C631.4,1427.4 634.3,1459.3 637.1,1459.3C639.0,1459.3 641.0,1425.7 642.9,1425.7C646.7,1425.7 650.5,1431.4 654.3,1431.4C657.2,1431.4 660.0,1415.7 662.9,1415.7C666.7,1415.7 670.5,1454.3 674.3,1454.3C676.7,1454.3 679.0,1454.3 681.4,1454.3C684.7,1454.3 688.1,1466.4 691.4,1466.4C695.2,1466.4 699.1,1455.0 702.9,1455.0C705.7,1455.0 708.6,1469.3 711.4,1469.3C714.3,1469.3 717.1,1467.9 720.0,1467.9C724.8,1467.9 729.5,1502.1 734.3,1502.1C737.4,1502.1 740.5,1483.6 743.6,1483.6C746.0,1483.6 748.3,1483.9 750.7,1484.3C754.8,1485.0 758.8,1504.3 762.9,1504.3C766.9,1504.3 771.0,1483.0 775.0,1474.3C777.1,1469.7 779.3,1461.7 781.4,1461.7C783.6,1461.7 785.7,1472.9 787.9,1472.9C792.2,1472.9 796.4,1455.7 800.7,1455.7C803.6,1455.7 806.4,1477.6 809.3,1480.0C813.6,1483.6 817.8,1486.0 822.1,1486.0C825.9,1486.0 829.8,1482.1 833.6,1482.1C837.4,1482.1 841.2,1489.3 845.0,1489.3C848.6,1489.3 852.1,1458.6 855.7,1458.6C858.6,1458.6 861.4,1470.0 864.3,1470.0C867.9,1470.0 871.4,1451.7 875.0,1451.7C878.6,1451.7 882.1,1482.9 885.7,1482.9C888.8,1482.9 891.9,1468.2 895.0,1465.7C899.0,1462.5 903.1,1459.7 907.1,1459.7C910.7,1459.7 914.3,1490.0 917.9,1490.0C922.6,1490.0 927.4,1455.7 932.1,1455.7C936.2,1455.7 940.2,1476.0 944.3,1476.0C946.4,1476.0 948.6,1464.6 950.7,1464.6C953.1,1464.6 955.5,1473.1 957.9,1473.1C961.6,1473.1 965.3,1450.7 969.0,1450.7C972.9,1450.7 976.8,1458.5 980.7,1464.3C983.1,1467.9 985.5,1478.3 987.9,1478.3C991.7,1478.3 995.5,1475.7 999.3,1473.6C1002.2,1472.0 1005.0,1469.1 1007.9,1467.1C1010.7,1465.1 1013.6,1461.4 1016.4,1461.4C1019.5,1461.4 1022.6,1497.1 1025.7,1497.1C1029.5,1497.1 1033.3,1472.9 1037.1,1472.9C1040.4,1472.9 1043.8,1479.3 1047.1,1479.3C1049.0,1479.3 1051.0,1465.7 1052.9,1465.7C1057.2,1465.7 1061.4,1477.1 1065.7,1477.1C1068.3,1477.1 1071.0,1459.7 1073.6,1459.7C1078.4,1459.7 1083.1,1487.1 1087.9,1487.1C1090.7,1487.1 1093.6,1475.0 1096.4,1475.0C1099.7,1475.0 1103.1,1482.1 1106.4,1482.1C1108.3,1482.1 1110.2,1471.7 1112.1,1471.7C1114.3,1471.7 1116.4,1475.0 1118.6,1475.0C1121.0,1475.0 1123.3,1469.3 1125.7,1469.3C1130.2,1469.3 1134.8,1496.4 1139.3,1496.4C1142.4,1496.4 1145.5,1469.6 1148.6,1469.6C1151.4,1469.6 1154.3,1482.9 1157.1,1482.9C1160.0,1482.9 1162.8,1482.0 1165.7,1480.7C1169.0,1479.2 1172.4,1466.3 1175.7,1462.9C1178.6,1460.0 1181.4,1456.7 1184.3,1456.7C1191.9,1456.7 1199.5,1480.0 1207.1,1480.0C1210.7,1480.0 1214.3,1467.9 1217.9,1467.9C1222.4,1467.9 1226.9,1469.6 1231.4,1471.7C1234.0,1473.0 1236.7,1480.7 1239.3,1480.7C1243.3,1480.7 1247.4,1467.6 1251.4,1467.6C1255.2,1467.6 1259.1,1479.3 1262.9,1479.3C1264.8,1479.3 1266.7,1477.1 1268.6,1477.1C1273.4,1477.1 1278.1,1477.9 1282.9,1477.9C1283.1,1477.9 1283.4,1477.9 1283.6,1477.9C1286.0,1477.9 1288.3,1477.6 1290.7,1477.1C1293.3,1476.6 1296.0,1469.6 1298.6,1469.6C1302.9,1469.6 1307.1,1482.1 1311.4,1482.1C1315.9,1482.1 1320.5,1467.9 1325.0,1467.9C1328.8,1467.9 1332.6,1481.8 1336.4,1488.6C1339.3,1493.8 1342.1,1504.0 1345.0,1504.0C1346.9,1504.0 1348.8,1480.7 1350.7,1480.7C1353.6,1480.7 1356.4,1488.6 1359.3,1488.6C1361.2,1488.6 1363.1,1475.0 1365.0,1475.0C1368.1,1475.0 1371.2,1483.6 1374.3,1483.6C1376.9,1483.6 1379.5,1463.6 1382.1,1463.6C1384.7,1463.6 1387.4,1473.6 1390.0,1473.6C1392.6,1473.6 1395.3,1469.3 1397.9,1469.3C1401.9,1469.3 1406.0,1485.7 1410.0,1485.7C1412.4,1485.7 1414.7,1473.9 1417.1,1473.9C1422.4,1473.9 1427.6,1493.6 1432.9,1493.6C1436.0,1493.6 1439.0,1482.3 1442.1,1479.3C1447.6,1474.0 1453.1,1468.3 1458.6,1468.3C1462.6,1468.3 1466.7,1488.6 1470.7,1488.6C1473.6,1488.6 1476.4,1480.7 1479.3,1480.7C1484.1,1480.7 1488.8,1480.7 1493.6,1480.7C1496.4,1480.7 1499.3,1472.9 1502.1,1472.9C1505.0,1472.9 1507.8,1489.3 1510.7,1489.3C1515.5,1489.3 1520.2,1489.3 1525.0,1489.3C1527.9,1489.3 1530.7,1480.7 1533.6,1480.7C1537.4,1480.7 1541.2,1489.3 1545.0,1489.3C1546.9,1489.3 1548.8,1489.0 1550.7,1488.6C1555.9,1487.6 1561.2,1465.0 1566.4,1465.0C1569.5,1465.0 1572.6,1484.3 1575.7,1484.3C1578.1,1484.3 1580.5,1477.1 1582.9,1477.1C1586.5,1477.1 1590.0,1490.0 1593.6,1490.0C1597.4,1490.0 1601.2,1471.7 1605.0,1471.7C1607.9,1471.7 1610.7,1482.1 1613.6,1482.1C1616.9,1482.1 1620.3,1473.6 1623.6,1473.6C1627.2,1473.6 1630.7,1477.3 1634.3,1479.3C1636.7,1480.6 1639.0,1483.3 1641.4,1483.3C1644.3,1483.3 1647.1,1476.5 1650.0,1473.6C1654.3,1469.2 1658.6,1461.7 1662.9,1461.7C1666.7,1461.7 1670.5,1467.0 1674.3,1471.4C1676.4,1473.9 1678.6,1482.1 1680.7,1482.1C1684.0,1482.1 1687.4,1467.6 1690.7,1467.6C1695.5,1467.6 1700.2,1479.3 1705.0,1479.3C1709.0,1479.3 1713.1,1462.6 1717.1,1462.6C1721.9,1462.6 1726.6,1492.1 1731.4,1492.1C1735.2,1492.1 1739.1,1482.9 1742.9,1482.9C1748.1,1482.9 1753.4,1487.1 1758.6,1487.1C1761.0,1487.1 1763.3,1480.7 1765.7,1480.7C1767.8,1480.7 1770.0,1485.4 1772.1,1485.4C1775.2,1485.4 1778.3,1462.9 1781.4,1462.9C1787.1,1462.9 1792.9,1491.1 1798.6,1491.1C1802.9,1491.1 1807.1,1489.8 1811.4,1487.9C1814.5,1486.5 1817.6,1473.6 1820.7,1473.6C1825.5,1473.6 1830.2,1492.1 1835.0,1492.1C1838.6,1492.1 1842.1,1478.6 1845.7,1478.6C1848.8,1478.6 1851.9,1491.4 1855.0,1491.4C1857.4,1491.4 1859.7,1483.6 1862.1,1483.6C1865.0,1483.6 1867.8,1500.0 1870.7,1500.0C1874.3,1500.0 1877.8,1473.6 1881.4,1473.6C1885.9,1473.6 1890.5,1477.9 1895.0,1481.4C1898.1,1483.8 1901.2,1492.1 1904.3,1492.1C1908.3,1492.1 1912.4,1462.6 1916.4,1462.6C1919.0,1462.6 1921.7,1488.6 1924.3,1488.6C1927.4,1488.6 1930.5,1481.9 1933.6,1477.1C1936.0,1473.4 1938.3,1463.5 1940.7,1462.9C1945.9,1461.6 1951.2,1461.1 1956.4,1461.1C1961.6,1461.1 1966.9,1465.0 1972.1,1470.7C1974.3,1473.1 1976.4,1487.9 1978.6,1487.9C1981.9,1487.9 1985.3,1456.4 1988.6,1456.4C1991.4,1456.4 1994.3,1477.4 1997.1,1477.4C2000.9,1477.4 2004.8,1463.6 2008.6,1463.6C2011.7,1463.6 2014.8,1481.4 2017.9,1481.4C2020.7,1481.4 2023.6,1478.1 2026.4,1475.7C2030.0,1472.6 2033.5,1462.6 2037.1,1462.6C2040.0,1462.6 2042.8,1486.4 2045.7,1486.4C2049.8,1486.4 2053.8,1477.1 2057.9,1477.1C2060.6,1477.1 2063.3,1482.4 2066.0,1484.3C2067.6,1485.4 2069.1,1486.2 2070.7,1487.1" fill="none" stroke="#C65300" stroke-width="13.2" stroke-linejoin="round" stroke-linecap="round"/>
</g>
<g><line x1="236.5" y1="1162.9" x2="236.5" y2="1576" stroke="#000" stroke-width="8.6" stroke-linecap="round"/><line x1="342.5" y1="1301.3" x2="342.5" y2="1576" stroke="#000" stroke-width="8.6" stroke-linecap="round"/><line x1="430.5" y1="1189.8" x2="430.5" y2="1576" stroke="#000" stroke-width="8.6" stroke-linecap="round"/><line x1="480.5" y1="1217.3" x2="480.5" y2="1576" stroke="#000" stroke-width="8.6" stroke-linecap="round"/><line x1="599.5" y1="1301.3" x2="599.5" y2="1576" stroke="#000" stroke-width="8.6" stroke-linecap="round"/><line x1="647.4" y1="1301.3" x2="647.4" y2="1576" stroke="#000" stroke-width="8.6" stroke-linecap="round"/><line x1="687.5" y1="1244.8" x2="687.5" y2="1576" stroke="#000" stroke-width="8.6" stroke-linecap="round"/><line x1="753.6" y1="1300.8" x2="753.6" y2="1576" stroke="#000" stroke-width="8.6" stroke-linecap="round"/><line x1="795.7" y1="1300.8" x2="795.7" y2="1576" stroke="#000" stroke-width="8.6" stroke-linecap="round"/><line x1="887.6" y1="1244.3" x2="887.6" y2="1576" stroke="#000" stroke-width="8.6" stroke-linecap="round"/><line x1="923.6" y1="1300.8" x2="923.6" y2="1576" stroke="#000" stroke-width="8.6" stroke-linecap="round"/><line x1="1016.2" y1="1356.3" x2="1016.2" y2="1576" stroke="#000" stroke-width="8.6" stroke-linecap="round"/><line x1="1058.6" y1="1300.8" x2="1058.6" y2="1576" stroke="#000" stroke-width="8.6" stroke-linecap="round"/><line x1="1131.4" y1="1217.2" x2="1131.4" y2="1576" stroke="#000" stroke-width="8.6" stroke-linecap="round"/><line x1="1170.4" y1="1300.8" x2="1170.4" y2="1576" stroke="#000" stroke-width="8.6" stroke-linecap="round"/><line x1="1242.6" y1="1300.8" x2="1242.6" y2="1576" stroke="#000" stroke-width="8.6" stroke-linecap="round"/><line x1="1275.4" y1="1217.2" x2="1275.4" y2="1576" stroke="#000" stroke-width="8.6" stroke-linecap="round"/><line x1="1406.4" y1="1300.8" x2="1406.4" y2="1576" stroke="#000" stroke-width="8.6" stroke-linecap="round"/><line x1="1458.6" y1="1300.8" x2="1458.6" y2="1576" stroke="#000" stroke-width="8.6" stroke-linecap="round"/><line x1="1486.4" y1="1411.2" x2="1486.4" y2="1576" stroke="#000" stroke-width="8.6" stroke-linecap="round"/><line x1="1587.4" y1="1244.3" x2="1587.4" y2="1576" stroke="#000" stroke-width="8.6" stroke-linecap="round"/><line x1="1666.4" y1="1356.4" x2="1666.4" y2="1576" stroke="#000" stroke-width="8.6" stroke-linecap="round"/><line x1="1716.9" y1="1272.4" x2="1716.9" y2="1576" stroke="#000" stroke-width="8.6" stroke-linecap="round"/><line x1="1787.9" y1="1272.4" x2="1787.9" y2="1576" stroke="#000" stroke-width="8.6" stroke-linecap="round"/><line x1="1883.1" y1="1300.8" x2="1883.1" y2="1576" stroke="#000" stroke-width="8.6" stroke-linecap="round"/><line x1="1965" y1="1300.8" x2="1965" y2="1576" stroke="#000" stroke-width="8.6" stroke-linecap="round"/><line x1="1986.9" y1="1272.4" x2="1986.9" y2="1576" stroke="#000" stroke-width="8.6" stroke-linecap="round"/><line x1="2053.3" y1="1300.8" x2="2053.3" y2="1576" stroke="#000" stroke-width="8.6" stroke-linecap="round"/></g>
<g><text x="326.4" y="1674.3" font-size="80" text-anchor="middle">25</text><text x="520.1" y="1674.3" font-size="80" text-anchor="middle">30</text><text x="713.8" y="1674.3" font-size="80" text-anchor="middle">35</text><text x="907.4" y="1674.3" font-size="80" text-anchor="middle">40</text><text x="1101.1" y="1674.3" font-size="80" text-anchor="middle">45</text><text x="1294.8" y="1674.3" font-size="80" text-anchor="middle">50</text><text x="1488.5" y="1674.3" font-size="80" text-anchor="middle">55</text><text x="1682.2" y="1674.3" font-size="80" text-anchor="middle">60</text><text x="1875.8" y="1674.3" font-size="80" text-anchor="middle">65</text><text x="2069.5" y="1674.3" font-size="80" text-anchor="middle">70</text></g>
<text transform="translate(1120.6,1745) scale(1.008,1)" font-size="100" text-anchor="middle">Angle 2 theta</text>
<text transform="translate(100.4,749.9) rotate(-90) scale(1.0136,1)" font-size="100.5" text-anchor="middle">Intensity (a.u.)</text>
<text transform="translate(342.9,562) rotate(-90)" font-size="80" text-anchor="middle">(130)</text>
<text transform="translate(532.3,610.3) rotate(-90)" font-size="80" text-anchor="middle">(021)</text>
<text transform="translate(732.9,560.8) rotate(-90)" font-size="80" text-anchor="middle">(230)</text>
<text transform="translate(814,626.5) rotate(-90)" font-size="80" text-anchor="middle">(320)</text>
<text transform="translate(1302.9,639.9) rotate(-90)" font-size="80" text-anchor="middle">(251)</text>
<text transform="translate(568.6,1332.2) rotate(-90)" font-size="80" text-anchor="middle">(221)</text>
<rect x="1022" y="59.5" width="176" height="90.5" rx="3" fill="#000"/>
<text transform="translate(1214.9,129.6) scale(0.9648,1)" font-size="78.5">Bi</text><text x="1286" y="149.6" font-size="54">2</text><text transform="translate(1311.7,129.6) scale(0.9648,1)" font-size="78.5">S</text><text x="1352.6" y="149.6" font-size="54">3</text><text transform="translate(1398.2,129.6) scale(0.9670,1)" font-size="78.5">ICSD: 01-075-1306</text>
<line x1="1026.5" y1="214.7" x2="1194" y2="214.7" stroke="#C65300" stroke-width="12.1" stroke-linecap="round"/><text transform="translate(1215.5,240.6) scale(0.9648,1)" font-size="78.5">x=0 at. % Cr</text>
<line x1="1026.5" y1="309.0" x2="1194" y2="309.0" stroke="#00AE68" stroke-width="12.1" stroke-linecap="round"/><text transform="translate(1215.5,334.9) scale(0.9648,1)" font-size="78.5">x=1.0 at. % Cr</text>
<line x1="1026.5" y1="403.3" x2="1194" y2="403.3" stroke="#FF4040" stroke-width="12.1" stroke-linecap="round"/><text transform="translate(1215.5,429.2) scale(0.9648,1)" font-size="78.5">x=2.0 at. % Cr</text>
<line x1="1026.5" y1="498.1" x2="1194" y2="498.1" stroke="#006EE0" stroke-width="12.1" stroke-linecap="round"/><text transform="translate(1215.5,524.0) scale(0.9648,1)" font-size="78.5">x=3.0 at. % Cr</text>
</svg></body></html>
